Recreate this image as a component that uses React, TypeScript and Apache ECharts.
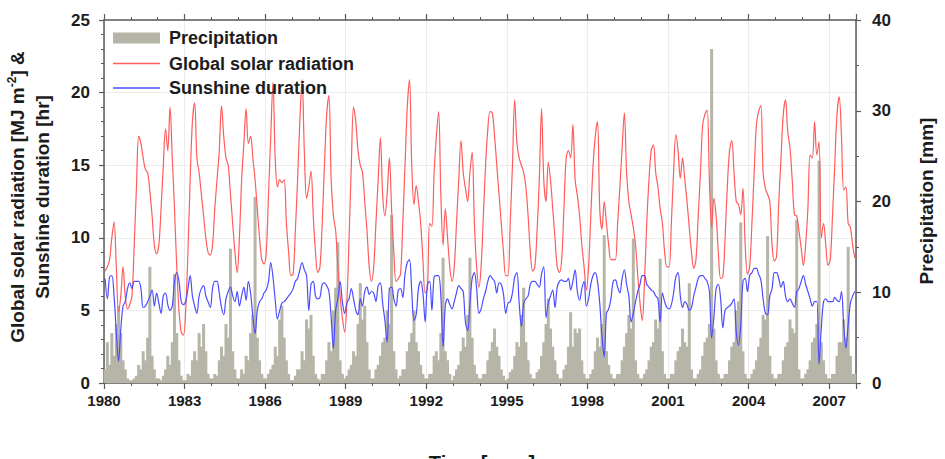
import React, { useEffect, useRef } from "react";
import * as echarts from "echarts";

const START_YEAR = 1980;
const END_YEAR = 2008;

// Monthly values, Jan..Dec per row, 1980-2007
const solarRadiation = [
  7.7, 8.0, 8.5, 10.0, 11.1, 8.0, 4.9, 6.0, 8.0, 6.0, 5.1, 5.4,
  6.0, 9.5, 13.5, 17.0, 16.5, 15.5, 14.7, 14.5, 13.2, 11.5, 9.5, 8.9,
  9.5, 12.0, 15.0, 17.5, 16.0, 19.0, 15.5, 12.0, 8.0, 5.0, 3.5, 3.3,
  5.0, 9.0, 14.0, 18.0, 19.3, 15.5, 14.5, 13.0, 11.5, 10.0, 9.0, 8.8,
  9.5, 12.0, 14.0, 16.0, 19.1, 17.0, 15.5, 15.0, 13.0, 11.0, 9.0, 7.6,
  10.0, 14.0, 16.5, 18.9, 16.5, 17.0, 15.5, 14.0, 12.0, 10.0, 8.5, 8.2,
  9.0, 13.0, 17.0, 20.7, 15.5, 13.5, 14.0, 13.8, 14.0, 11.0, 9.0, 7.4,
  7.5, 10.5, 14.0, 18.0, 20.9, 16.0, 12.7, 13.5, 14.6, 11.5, 9.0, 7.6,
  8.0, 11.0, 15.0, 18.5, 19.8, 14.0, 11.5, 10.5, 8.0, 6.0, 4.5, 3.5,
  5.5, 10.0, 15.0, 19.0, 18.0, 16.0, 15.0, 14.5, 12.5, 10.5, 8.0, 7.0,
  8.0, 11.0, 14.0, 16.9, 13.0, 11.5, 13.0, 15.5, 12.0, 9.0, 7.0, 7.2,
  7.5, 11.0, 15.0, 19.0, 20.9, 15.0, 12.3, 13.6, 12.5, 11.0, 8.5, 6.2,
  6.5, 11.0, 10.8, 14.5, 17.0, 18.7, 13.0, 9.5, 12.0, 10.0, 8.0, 7.0,
  8.0, 11.0, 14.0, 16.7, 14.5, 13.4, 12.5, 14.5, 15.9, 11.0, 8.0, 6.6,
  8.0, 11.5, 15.0, 17.5, 18.7, 18.6, 17.0, 15.0, 13.0, 11.0, 9.0, 7.4,
  7.4, 11.0, 15.0, 19.5, 16.5, 15.5, 15.0, 14.5, 13.5, 11.5, 9.0, 7.7,
  8.0, 10.5, 14.0, 18.9, 14.0, 12.5, 15.2, 14.0, 12.0, 10.0, 8.0, 7.6,
  8.5, 12.0, 15.5, 16.0, 15.5, 17.8, 14.0, 12.9, 11.5, 9.5, 8.0, 6.4,
  8.0, 11.5, 14.9, 17.0, 18.0, 12.0, 10.6, 12.5, 11.0, 9.5, 8.5, 8.5,
  8.5, 11.0, 13.5, 16.2, 18.6, 14.5, 12.5, 11.6, 10.7, 9.5, 7.4, 5.5,
  4.3, 7.0, 11.0, 14.0, 16.0, 16.4, 14.5, 13.5, 12.0, 11.0, 9.0, 8.0,
  8.0, 11.0, 14.5, 17.1, 16.0, 14.1, 15.5, 14.0, 12.5, 10.7, 9.0, 7.9,
  8.5, 11.5, 14.5, 17.8, 18.5, 18.8, 14.0, 10.7, 12.7, 11.5, 9.0, 7.2,
  7.3, 10.0, 13.5, 16.0, 16.7, 14.5, 12.5, 12.3, 11.6, 13.4, 9.5, 7.5,
  8.0, 11.0, 14.5, 17.8, 18.7, 19.1, 14.5, 13.4, 13.0, 12.5, 9.5, 8.4,
  8.7, 12.5, 15.5, 18.5, 19.5, 17.3, 16.2, 14.0, 11.6, 11.5, 10.5, 9.3,
  8.1, 9.5, 12.0, 15.7, 15.5, 18.0, 15.7, 16.6, 10.0, 11.0, 9.5, 8.1,
  8.5, 11.5, 15.0, 18.5, 19.7, 17.0, 13.3, 13.5, 11.0, 10.7, 9.5, 8.6,
];

const sunshineDuration = [
  7.2, 5.8, 7.3, 7.4, 6.0, 3.5, 1.5, 3.7, 5.3, 5.6, 6.5, 6.9,
  6.5, 7.0, 7.0, 7.0, 6.5, 5.2, 5.3, 5.6, 6.0, 6.4, 5.3, 6.2,
  5.5, 4.8, 6.0, 6.2, 5.4, 5.0, 5.3, 7.0, 7.6, 7.0, 5.6, 5.4,
  5.6, 6.5, 7.4, 6.0, 5.3, 4.8, 6.0, 6.5, 6.7, 6.0, 5.6, 5.2,
  6.5, 7.0, 7.0, 6.2, 5.2, 4.7, 5.8, 6.3, 6.6, 6.0, 5.6, 6.3,
  5.3, 6.0, 6.6, 5.7, 7.0, 6.2, 4.6, 3.4, 5.0, 5.6, 5.8, 6.2,
  6.4, 7.0, 8.3, 7.3, 5.7, 4.4, 5.0, 5.5, 5.6, 5.8, 6.0, 6.2,
  6.5, 7.0, 7.2, 7.8, 8.3, 7.8, 7.4, 5.0, 6.8, 7.0, 6.0, 5.8,
  5.9, 6.8, 6.9, 6.7, 6.3, 4.5, 2.4, 5.0, 5.8, 7.0, 5.6, 4.8,
  5.5, 5.8, 6.5, 5.8, 5.0, 4.7, 5.8, 5.3, 6.3, 6.6, 6.1, 6.3,
  6.2, 5.6, 6.7, 6.9, 5.5, 4.3, 2.8, 6.5, 6.6, 5.8, 5.3, 6.4,
  6.5, 5.9, 7.5, 8.3, 8.5, 6.3, 4.3, 4.7, 6.5, 7.0, 6.2, 4.2,
  6.8, 7.0, 5.0, 7.3, 7.4, 7.4, 6.0, 2.5, 5.3, 5.8, 5.4, 5.1,
  5.6, 6.2, 6.7, 6.5, 6.3, 4.2, 3.6, 5.5, 7.2, 7.6, 6.5, 4.8,
  5.1, 5.8, 6.3, 7.0, 7.4, 7.2, 7.0, 6.2, 6.9, 6.8, 6.1, 4.8,
  5.5, 5.6, 6.2, 7.3, 7.6, 5.5, 3.9, 5.5, 5.8, 6.0, 6.8, 7.0,
  7.0, 6.8, 6.6, 7.5, 8.0, 4.5, 5.5, 6.0, 6.4, 5.2, 6.6, 7.0,
  7.1, 7.0, 7.0, 7.2, 6.4, 7.0, 7.8, 6.3, 5.7, 6.5, 7.0, 5.3,
  5.8, 6.8, 7.4, 7.6, 7.0, 5.5, 3.2, 1.8, 4.8, 5.1, 5.8, 7.0,
  7.1, 6.6, 6.2, 7.2, 7.8, 6.8, 6.0, 4.2, 4.8, 5.6, 6.3, 6.8,
  7.4, 7.4, 6.8, 6.6, 6.4, 6.3, 6.0, 5.8, 4.2, 6.2, 5.6, 5.2,
  5.1, 5.4, 6.2, 7.3, 7.6, 6.0, 5.2, 5.6, 5.4, 5.0, 5.2, 6.0,
  6.6, 7.2, 7.4, 7.4, 7.2, 7.0, 6.3, 3.1, 4.5, 6.5, 6.8, 5.8,
  3.8, 5.0, 5.2, 5.3, 5.5, 5.8, 3.5, 2.6, 4.0, 7.0, 7.2, 6.3,
  7.4, 7.6, 7.9, 7.9, 7.5, 7.1, 5.8, 4.8, 4.7, 6.0, 6.5, 7.6,
  7.6, 7.2, 6.6, 7.0, 6.0, 5.6, 5.8, 5.5, 5.2, 6.3, 6.5, 7.0,
  7.4, 6.8, 6.3, 5.8, 5.3, 5.6, 5.6, 1.3, 3.8, 5.6, 5.8, 5.6,
  5.6, 5.6, 5.9, 5.7, 5.6, 6.3, 4.0, 2.4, 4.0, 5.5, 6.0, 6.3,
];

const precipitation = [
  1.5, 4.5, 2.0, 5.5, 3.0, 6.5, 8.5, 5.5, 2.5, 1.5, 0.5, 0.3,
  0.3, 0.5, 0.8, 2.0, 1.5, 3.5, 2.5, 5.0, 12.8, 3.0, 1.5, 0.5,
  0.5, 0.3, 0.8, 1.5, 3.0, 2.0, 4.5, 12.0, 5.5, 2.5, 0.8, 0.3,
  0.3, 1.0, 0.8, 2.5, 3.5, 2.5, 5.5, 4.0, 6.5, 3.5, 1.0, 0.5,
  0.5, 1.0, 0.8, 2.5, 4.0, 3.0, 6.5, 5.0, 14.8, 3.5, 1.5, 0.5,
  0.5, 1.5, 1.0, 3.0, 2.5, 5.5, 7.5, 20.5, 5.0, 2.5, 1.0, 0.5,
  0.5, 1.0, 1.5, 2.0, 4.0, 3.0, 7.0, 8.5, 5.0, 2.5, 1.0, 0.3,
  0.3, 0.8, 1.5, 1.5, 3.5, 2.5, 7.0, 6.0, 7.5, 3.0, 1.0, 0.5,
  0.3, 1.0, 1.0, 2.5, 4.5, 3.5, 8.0, 10.5, 15.5, 2.5, 1.0, 0.5,
  0.8, 1.5, 2.0, 3.5, 3.0, 6.5, 11.0, 7.0, 8.5, 4.5, 1.5, 0.5,
  0.5, 1.5, 2.0, 3.0, 4.5, 5.0, 8.0, 6.5, 18.5, 3.5, 1.5, 0.5,
  0.8, 1.5, 1.5, 3.5, 4.5, 5.5, 8.0, 4.5, 3.5, 2.0, 1.0, 0.5,
  0.5, 1.0, 1.0, 3.0, 3.5, 2.5, 5.5, 13.8, 3.5, 2.5, 1.0, 0.3,
  0.8, 1.5, 2.0, 3.5, 5.0, 4.0, 7.5, 13.8, 5.0, 2.0, 1.0, 0.5,
  0.5, 1.0, 1.0, 2.5, 3.5, 4.5, 6.0, 4.0, 3.0, 1.5, 0.8, 0.3,
  0.5, 1.2, 1.5, 3.0, 4.5, 4.0, 7.5, 10.5, 4.5, 2.5, 1.0, 0.5,
  0.5, 1.2, 1.5, 3.0, 4.5, 6.5, 9.3, 6.0, 4.0, 2.5, 1.0, 0.5,
  0.5, 1.5, 2.0, 4.0, 7.8, 4.0, 6.0, 5.5, 6.0, 2.5, 1.0, 0.5,
  0.5, 1.0, 1.5, 3.5, 5.0, 4.0, 6.5, 16.3, 3.5, 2.0, 1.0, 0.5,
  0.5, 1.0, 1.0, 2.5, 4.0, 5.5, 7.5, 6.0, 15.9, 2.5, 1.0, 0.5,
  0.5, 1.0, 1.5, 2.5, 4.0, 4.5, 7.0, 6.0, 13.7, 3.5, 1.0, 0.5,
  0.5, 1.0, 1.0, 2.5, 3.5, 4.0, 6.0, 4.5, 4.0, 11.0, 1.5, 0.5,
  0.5, 1.0, 1.5, 3.0, 4.5, 5.0, 6.5, 36.8, 6.0, 2.5, 1.0, 0.5,
  0.5, 1.0, 1.0, 2.5, 4.0, 4.5, 8.0, 9.0, 17.7, 3.5, 1.0, 0.5,
  0.5, 1.0, 1.5, 2.5, 4.0, 5.0, 7.5, 7.0, 16.2, 3.0, 1.0, 0.5,
  0.5, 1.0, 1.0, 2.5, 4.0, 4.5, 7.0, 6.0, 5.5, 18.0, 1.5, 0.5,
  0.5, 1.0, 1.5, 2.5, 4.5, 5.0, 6.5, 24.5, 4.5, 2.5, 1.0, 0.5,
  0.5, 1.0, 1.0, 3.0, 4.5, 4.5, 7.0, 5.0, 15.0, 3.0, 1.0, 1.0,
];

const FONT = "'Liberation Sans', Arial, Helvetica, sans-serif";
const TEXT = "#1c1c1c";
const AXIS = "#5a5a5a";
const RED = "#ff5c5c";
const BLUE = "#4d4dff";
const GRAY = "#b6b5a7";

const monthTime = (i: number) => START_YEAR + (i + 0.5) / 12;

export default function App() {
  const ref = useRef<HTMLDivElement>(null);

  useEffect(() => {
    if (!ref.current) return;
    const chart = echarts.init(ref.current, undefined, { renderer: "svg" });

    const tickAxisBase = {
      type: "value" as const,
      min: START_YEAR,
      max: END_YEAR,
      axisLabel: { show: false },
      splitLine: { show: false },
    };

    const legendText = {
      fontSize: 18,
      fontWeight: "bold" as const,
      color: TEXT,
      fontFamily: FONT,
      padding: [0, 0, 0, 4],
    };

    chart.setOption({
      animation: false,
      backgroundColor: "#ffffff",
      grid: { left: 104, right: 89, top: 20, bottom: 76, containLabel: false },
      legend: [
        {
          orient: "vertical",
          left: 108,
          top: 24,
          itemWidth: 47,
          itemHeight: 11,
          itemGap: 6,
          textStyle: legendText,
          data: [{ name: "Precipitation", icon: "rect" }],
        },
        {
          orient: "vertical",
          left: 108,
          top: 49.5,
          itemWidth: 47,
          itemHeight: 1.5,
          itemGap: 6.5,
          textStyle: legendText,
          data: [
            { name: "Global solar radiation", icon: "rect" },
            { name: "Sunshine duration", icon: "rect" },
          ],
        },
      ],
      xAxis: [
        {
          ...tickAxisBase,
          position: "bottom",
          interval: 3,
          axisLine: { show: true, onZero: false, lineStyle: { color: AXIS, width: 1.5 } },
          axisTick: { show: true, length: 6, lineStyle: { color: AXIS, width: 1.2 } },
          axisLabel: {
            show: true,
            margin: 10,
            fontSize: 15,
            fontWeight: "bold",
            color: TEXT,
            fontFamily: FONT,
            formatter: (v: number) => (v >= END_YEAR ? "" : String(v)),
          },
          splitLine: { show: true, lineStyle: { color: "#ececec", width: 1 } },
        },
        {
          ...tickAxisBase,
          position: "bottom",
          interval: 1,
          axisLine: { show: false, onZero: false },
          axisTick: { show: true, length: 3, lineStyle: { color: AXIS, width: 1 } },
        },
        {
          ...tickAxisBase,
          position: "top",
          interval: 3,
          axisLine: { show: true, onZero: false, lineStyle: { color: AXIS, width: 1.5 } },
          axisTick: { show: true, length: 6, lineStyle: { color: AXIS, width: 1.2 } },
        },
        {
          ...tickAxisBase,
          position: "top",
          interval: 1,
          axisLine: { show: false, onZero: false },
          axisTick: { show: true, length: 3, lineStyle: { color: AXIS, width: 1 } },
        },
      ],
      yAxis: [
        {
          type: "value",
          position: "left",
          min: 0,
          max: 25,
          interval: 5,
          axisLine: { show: true, onZero: false, lineStyle: { color: AXIS, width: 1.5 } },
          axisTick: { show: true, length: 5, lineStyle: { color: AXIS, width: 1.2 } },
          minorTick: { show: true, splitNumber: 5, length: 3, lineStyle: { color: AXIS, width: 1 } },
          axisLabel: { margin: 14, fontSize: 17, fontWeight: "bold", color: TEXT, fontFamily: FONT },
          splitLine: { show: true, lineStyle: { color: "#ececec", width: 1 } },
        },
        {
          type: "value",
          position: "right",
          min: 0,
          max: 40,
          interval: 10,
          axisLine: { show: true, onZero: false, lineStyle: { color: AXIS, width: 1.5 } },
          axisTick: { show: true, length: 5, lineStyle: { color: AXIS, width: 1.2 } },
          minorTick: { show: true, splitNumber: 2, length: 3, lineStyle: { color: AXIS, width: 1 } },
          axisLabel: { margin: 16, fontSize: 17, fontWeight: "bold", color: TEXT, fontFamily: FONT },
          splitLine: { show: false },
        },
      ],
      series: [
        {
          name: "Precipitation",
          type: "bar",
          xAxisIndex: 0,
          yAxisIndex: 1,
          barWidth: 3,
          itemStyle: { color: GRAY },
          data: precipitation.map((p, i) => [monthTime(i), p]),
        },
        {
          name: "Global solar radiation",
          type: "line",
          xAxisIndex: 0,
          yAxisIndex: 0,
          smooth: 0.35,
          symbol: "none",
          lineStyle: { color: RED, width: 1.2 },
          itemStyle: { color: RED },
          data: solarRadiation.map((v, i) => [monthTime(i), v]),
        },
        {
          name: "Sunshine duration",
          type: "line",
          xAxisIndex: 0,
          yAxisIndex: 0,
          smooth: 0.35,
          symbol: "none",
          lineStyle: { color: BLUE, width: 1.2 },
          itemStyle: { color: BLUE },
          data: sunshineDuration.map((v, i) => [monthTime(i), v]),
        },
      ],
      graphic: [
        {
          type: "text",
          x: 17,
          y: 197,
          rotation: Math.PI / 2,
          style: {
            text: "Global solar radiation [MJ m{sup|-2}] &",
            fontSize: 19,
            fontWeight: "bold",
            fontFamily: FONT,
            fill: TEXT,
            align: "center",
            verticalAlign: "middle",
            rich: {
              sup: { fontSize: 12, fontWeight: "bold", fontFamily: FONT, fill: TEXT, padding: [0, 0, 10, 0] },
            },
          },
        },
        {
          type: "text",
          x: 42,
          y: 197,
          rotation: Math.PI / 2,
          style: {
            text: "Sunshine duration [hr]",
            fontSize: 19,
            fontWeight: "bold",
            fontFamily: FONT,
            fill: TEXT,
            align: "center",
            verticalAlign: "middle",
          },
        },
        {
          type: "text",
          x: 926,
          y: 201,
          rotation: Math.PI / 2,
          style: {
            text: "Precipitation [mm]",
            fontSize: 19,
            fontWeight: "bold",
            fontFamily: FONT,
            fill: TEXT,
            align: "center",
            verticalAlign: "middle",
          },
        },
        {
          type: "text",
          x: 482,
          y: 453,
          style: {
            text: "Time [year]",
            fontSize: 20,
            fontWeight: "bold",
            fontFamily: FONT,
            fill: TEXT,
            align: "center",
            verticalAlign: "top",
          },
        },
      ],
    });

    return () => chart.dispose();
  }, []);

  return (
    <div
      ref={ref}
      style={{ position: "fixed", left: 0, top: 0, width: 945, height: 459, background: "#fff" }}
    />
  );
}
